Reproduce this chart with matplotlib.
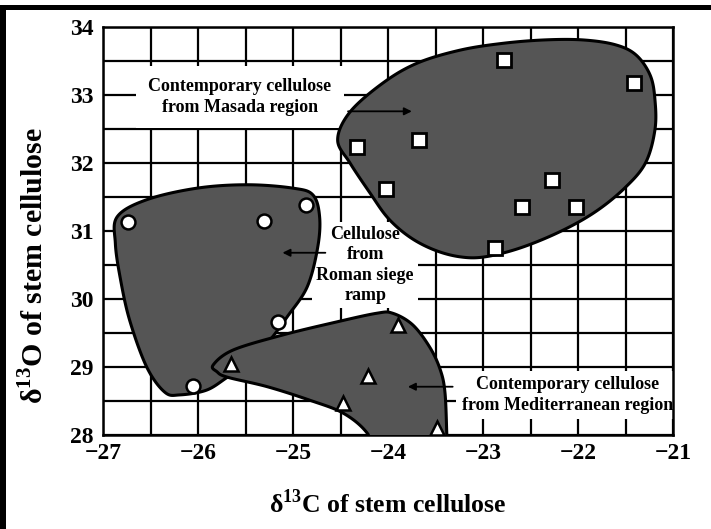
import numpy as np
import matplotlib
matplotlib.use("Agg")
import matplotlib.pyplot as plt
from matplotlib.patches import Polygon, Rectangle

plt.rcParams['font.family'] = ['Liberation Serif', 'DejaVu Serif']
plt.rcParams['font.weight'] = 'bold'
plt.rcParams['axes.labelweight'] = 'bold'
plt.rcParams['mathtext.fontset'] = 'custom'
plt.rcParams['mathtext.rm'] = 'Liberation Serif:bold'
plt.rcParams['mathtext.bf'] = 'Liberation Serif:bold'

# ---- data ----
masada_x = [-22.78, -21.41, -23.67, -24.33, -24.02, -22.27, -22.59, -22.02, -22.87]
masada_y = [33.51, 33.18, 32.34, 32.24, 31.62, 31.75, 31.35, 31.35, 30.75]

roman_x = [-26.74, -25.31, -24.86, -25.16, -26.05]
roman_y = [31.13, 31.15, 31.38, 29.66, 28.72]

med_x = [-25.65, -23.89, -24.21, -24.47, -23.48]
med_y = [29.04, 29.62, 28.87, 28.47, 28.10]

# region outlines (data coords, closed)
masada_hull_x = [-24.53, -24.40, -24.05, -23.69, -23.24, -22.79, -22.35, -21.95, -21.61, -21.39,
                 -21.24, -21.19, -21.19, -21.29, -21.51, -21.82, -22.19, -22.61, -22.98, -23.24,
                 -23.51, -23.77, -24.00, -24.19, -24.40]
masada_hull_y = [32.34, 32.75, 33.18, 33.47, 33.66, 33.76, 33.81, 33.81, 33.74, 33.59,
                 33.29, 32.93, 32.49, 32.00, 31.63, 31.28, 30.99, 30.75, 30.62, 30.62,
                 30.72, 30.91, 31.19, 31.56, 32.00]

roman_hull_x = [-26.85, -26.54, -26.01, -25.48, -25.00, -24.79, -24.72, -24.74, -24.85, -25.06,
                -25.24, -25.45, -25.69, -25.91, -26.19, -26.35, -26.54, -26.72, -26.82, -26.87]
roman_hull_y = [31.21, 31.46, 31.63, 31.68, 31.63, 31.53, 31.21, 30.76, 30.18, 29.74,
                29.40, 29.07, 28.85, 28.66, 28.59, 28.63, 29.00, 29.69, 30.32, 30.82]

med_hull_x = [-25.84, -25.63, -25.11, -24.58, -24.12, -23.95, -23.74, -23.56, -23.45, -23.40,
              -23.38, -23.37, -24.08, -24.22, -24.47, -24.82, -25.27, -25.69, -25.80]
med_hull_y = [29.03, 29.25, 29.47, 29.65, 29.79, 29.79, 29.62, 29.29, 28.96, 28.62,
              27.97, 27.63, 27.63, 28.03, 28.32, 28.51, 28.71, 28.85, 28.93]

x_ticks = [-27, -26, -25, -24, -23, -22, -21]
y_ticks = [28, 29, 30, 31, 32, 33, 34]
x_tick_labels = ['\u221227', '\u221226', '\u221225', '\u221224', '\u221223', '\u221222', '\u221221']
y_tick_labels = ['28', '29', '30', '31', '32', '33', '34']

label_masada = "Contemporary cellulose\nfrom Masada region"
label_roman = "Cellulose\nfrom\nRoman siege\nramp"
label_med = "Contemporary cellulose\nfrom Mediterranean region"


def smooth_closed(xs, ys, n=20):
    """Periodic Catmull-Rom spline through outline points."""
    P = np.column_stack([xs, ys])
    m = len(P)
    out = []
    for i in range(m):
        p0, p1, p2, p3 = P[(i - 1) % m], P[i], P[(i + 1) % m], P[(i + 2) % m]
        t = np.linspace(0, 1, n, endpoint=False)[:, None]
        seg = 0.5 * ((2 * p1) + (-p0 + p2) * t + (2 * p0 - 5 * p1 + 4 * p2 - p3) * t ** 2
                     + (-p0 + 3 * p1 - 3 * p2 + p3) * t ** 3)
        out.append(seg)
    return np.vstack(out)


fig = plt.figure(figsize=(7.11, 5.29), dpi=100)
ax = fig.add_axes([103 / 711, 1 - 435 / 529, 570 / 711, 408 / 529])

ax.set_xlim(-27, -21)
ax.set_ylim(28, 34)
ax.set_xticks(np.arange(-27, -20.9, 0.5), minor=True)
ax.set_yticks(np.arange(28, 34.01, 0.5), minor=True)
ax.set_xticks(x_ticks)
ax.set_yticks(y_ticks)
ax.set_xticklabels(x_tick_labels)
ax.set_yticklabels(y_tick_labels)
ax.tick_params(which='both', length=0)
ax.tick_params(axis='x', pad=6, labelsize=17)
ax.tick_params(axis='y', pad=7, labelsize=17)
ax.grid(True, which='both', color='black', linewidth=1.6, zorder=0)
ax.set_axisbelow(True)
for s in ax.spines.values():
    s.set_linewidth(1.8)
    s.set_color('black')

fill = '#555555'
for hx, hy, z in [(roman_hull_x, roman_hull_y, 3), (med_hull_x, med_hull_y, 4),
                  (masada_hull_x, masada_hull_y, 3)]:
    pts = smooth_closed(hx, hy)
    ax.add_patch(Polygon(pts, closed=True, facecolor=fill, edgecolor='black',
                         linewidth=2.2, zorder=z))

ax.plot(masada_x, masada_y, linestyle='none', marker='s', markersize=9.5,
        markerfacecolor='white', markeredgecolor='black', markeredgewidth=2, zorder=6)
ax.plot(roman_x, roman_y, linestyle='none', marker='o', markersize=10,
        markerfacecolor='white', markeredgecolor='black', markeredgewidth=1.8, zorder=6)
ax.plot(med_x, med_y, linestyle='none', marker='^', markersize=10,
        markerfacecolor='white', markeredgecolor='black', markeredgewidth=1.8, zorder=6)

tfs = 13
ax.text(-25.56, 32.97, label_masada, ha='center', va='center', fontsize=tfs,
        linespacing=1.25, zorder=2,
        bbox=dict(facecolor='white', edgecolor='none', pad=9))
ax.text(-24.24, 30.5, label_roman, ha='center', va='center', fontsize=tfs,
        linespacing=1.25, zorder=2,
        bbox=dict(facecolor='white', edgecolor='none', pad=3))
ax.text(-22.11, 28.59, label_med, ha='center', va='center', fontsize=tfs,
        linespacing=1.25, zorder=2,
        bbox=dict(facecolor='white', edgecolor='none', pad=4))

arrow = dict(arrowstyle='-|>', color='black', lw=1.3, mutation_scale=11)
ax.annotate('', xy=(-23.72, 32.76), xytext=(-24.45, 32.76), arrowprops=arrow, zorder=7)
ax.annotate('', xy=(-25.14, 30.68), xytext=(-24.63, 30.68), arrowprops=arrow, zorder=7)
ax.annotate('', xy=(-23.82, 28.71), xytext=(-23.29, 28.71), arrowprops=arrow, zorder=7)

ax.set_xlabel(r'δ$^{13}$C of stem cellulose', fontsize=18.5, fontweight='bold', labelpad=18)
ax.set_ylabel(r'δ$^{13}$O of stem cellulose', fontsize=21.5, fontweight='bold')
ax.yaxis.set_label_coords(-0.095, 0.415)

# black frame (top and left) of the original figure
fig.patches.append(Rectangle((0, 1 - 10 / 529), 1, 5 / 529, transform=fig.transFigure,
                             facecolor='black', edgecolor='none'))
fig.patches.append(Rectangle((0, 0), 6 / 711, 1 - 5 / 529, transform=fig.transFigure,
                             facecolor='black', edgecolor='none'))

fig.savefig('out.png', dpi=100)
